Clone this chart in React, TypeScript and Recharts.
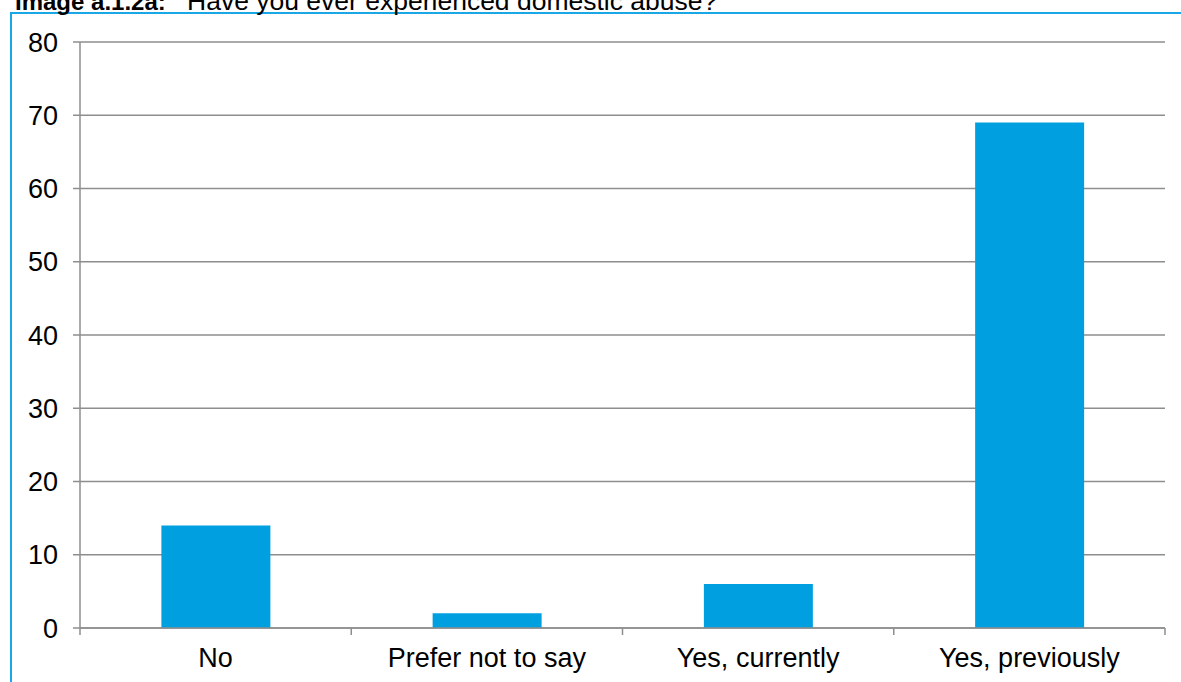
import React from "react";
import { Bar, BarChart, CartesianGrid, XAxis, YAxis } from "recharts";

const categories = ["No", "Prefer not to say", "Yes, currently", "Yes, previously"];
const counts = [14, 2, 6, 69];
const yTicks = [0, 10, 20, 30, 40, 50, 60, 70, 80];

const data = categories.map((name, i) => ({ name, value: counts[i] }));

const FONT = "'Liberation Sans', Arial, sans-serif";
const GRID = "#8e8e8e";
const BAR = "#00a0e0";

// category labels, with tick marks on the band edges instead of the centres
function CategoryTick(props: any) {
  const { x, y, payload, index, width, visibleTicksCount } = props;
  const band = width / visibleTicksCount;
  const axisY = y - 20;
  return (
    <g>
      <line x1={x - band / 2} x2={x - band / 2} y1={axisY} y2={axisY + 7} stroke={GRID} strokeWidth={1.5} />
      {index === visibleTicksCount - 1 && (
        <line x1={x + band / 2} x2={x + band / 2} y1={axisY} y2={axisY + 7} stroke={GRID} strokeWidth={1.5} />
      )}
      <text x={x} y={y} dy="0.71em" textAnchor="middle" fill="#000" fontSize={27} fontFamily={FONT}>
        {payload.value}
      </text>
    </g>
  );
}

export default function App() {
  return (
    <div
      style={{
        position: "absolute",
        left: 0,
        top: 0,
        width: 1181,
        height: 682,
        overflow: "hidden",
        background: "#fff",
      }}
    >
      <div
        style={{
          position: "absolute",
          left: 10,
          top: 12,
          width: 1200,
          height: 700,
          borderLeft: "2px solid #1aa7e6",
          borderTop: "2px solid #1aa7e6",
        }}
      />
      <svg width={1181} height={30} style={{ position: "absolute", left: 0, top: 0 }}>
        <text y={10} fontFamily={FONT} fill="#000">
          <tspan x={15} fontSize={24} fontWeight="bold">Image a.1.2a:</tspan>
          <tspan x={187} fontSize={26.5}>Have you ever experienced domestic abuse?</tspan>
        </text>
      </svg>
      <div style={{ position: "absolute", left: 0, top: 0 }}>
        <BarChart
          width={1181}
          height={682}
          data={data}
          margin={{ top: 42, right: 16, bottom: 14, left: 10 }}
          barCategoryGap="30%"
        >
          <CartesianGrid vertical={false} stroke={GRID} strokeWidth={1.5} />
          <XAxis
            dataKey="name"
            height={40}
            axisLine={{ stroke: GRID, strokeWidth: 1.5 }}
            tickLine={{ stroke: "none" }}
            tickSize={7}
            tickMargin={13}
            interval={0}
            tick={<CategoryTick />}
          />
          <YAxis
            width={70}
            domain={[0, 80]}
            ticks={yTicks}
            interval={0}
            axisLine={{ stroke: GRID, strokeWidth: 1.5 }}
            tickLine={{ stroke: GRID, strokeWidth: 1.5 }}
            tickSize={7}
            tickMargin={15}
            tick={{ fill: "#000", fontSize: 27, fontFamily: FONT }}
          />
          <Bar dataKey="value" fill={BAR} isAnimationActive={false} />
        </BarChart>
      </div>
    </div>
  );
}
